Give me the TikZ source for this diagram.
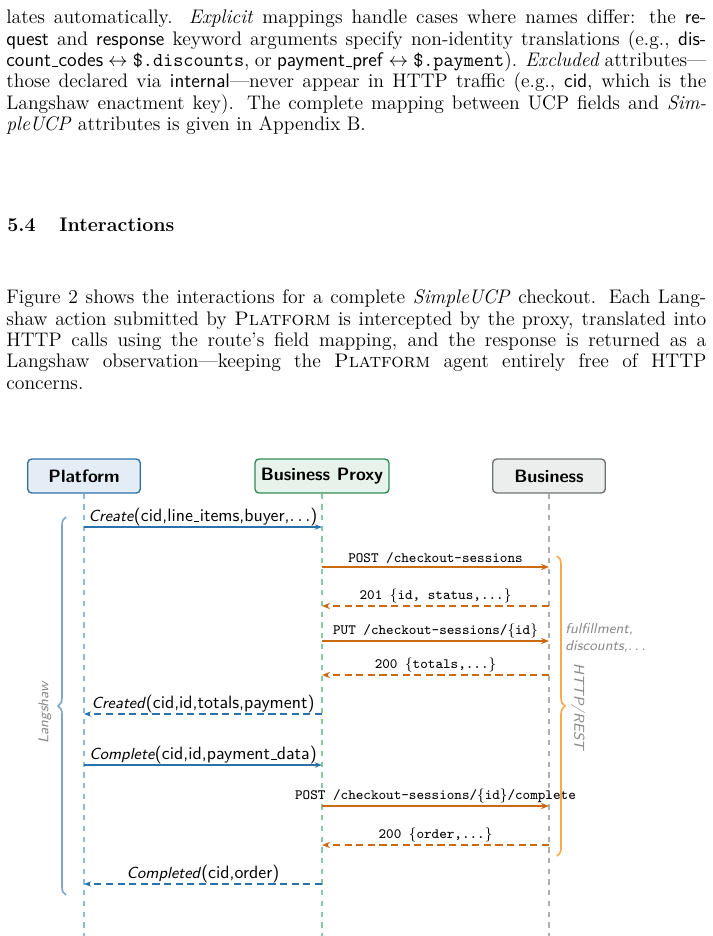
\documentclass[tikz,border=0pt]{standalone}
\usepackage{amsmath,amssymb}
\usepackage{xcolor}
\usepackage{tikz}
\usetikzlibrary{arrows.meta,calc,decorations.pathreplacing,positioning}
\definecolor{platblue}{HTML}{2A72AA}
\definecolor{platpale}{HTML}{E4EDF6}
\definecolor{platlight}{HTML}{8DB9DB}
\definecolor{proxygreen}{HTML}{2E8B57}
\definecolor{proxypale}{HTML}{E6F2EA}
\definecolor{proxylight}{HTML}{86C9A0}
\definecolor{bizgray}{HTML}{6E7072}
\definecolor{bizpale}{HTML}{ECEEEE}
\definecolor{bizlight}{HTML}{AEAEAE}
\definecolor{httporange}{HTML}{CC6A12}
\definecolor{httplight}{HTML}{F8A94C}
\definecolor{notegray}{HTML}{8A8A8A}
\newcommand\undsc{\leavevmode\kern.06em\vbox{\hrule width.3em}\kern.02em}
\tikzset{
  actor/.style={draw,rounded corners=2.2pt,line width=0.75pt,minimum height=19pt,font=\sffamily\bfseries,inner sep=3pt},
  lifeline/.style={line width=0.6pt,dash pattern=on 3pt off 3pt},
  lmsg/.style={-{Stealth[length=4pt,width=3pt]},platblue,line width=0.8pt},
  hmsg/.style={-{Stealth[length=4.5pt,width=3.5pt]},httporange,line width=1pt},
  ret/.style={dash pattern=on 4pt off 2.5pt},
  lbl/.style={font=\sffamily,text=black,above,inner sep=0.2pt},
  tlbl/.style={font=\ttfamily\footnotesize,text=black,above,inner sep=1.3pt},
  note/.style={font=\sffamily\itshape\footnotesize,text=notegray},
  para/.style={anchor=north west,inner sep=0pt,text width=392pt,align=justify,font=\fontsize{11}{12}\selectfont}
}

\begin{document}
\begin{tikzpicture}[x=0.56pt,y=-0.56pt]
  \useasboundingbox (0,0) rectangle (712,936);

  \node[para] (para1) at (6,9.5) {lates automatically. \emph{Explicit} mappings handle cases where names differ: the \textsf{re-}\linebreak
    \textsf{quest} and \textsf{response} keyword arguments specify non-identity translations (e.g., \textsf{dis-}\linebreak
    \textsf{count\undsc codes} $\leftrightarrow$ \texttt{\$.discounts}, or \textsf{payment\undsc pref} $\leftrightarrow$ \texttt{\$.payment}). \emph{Excluded} attributes---\linebreak
    those declared via \textsf{internal}---never appear in HTTP traffic (e.g., \textsf{cid}, which is the\linebreak
    Langshaw enactment key). The complete mapping between UCP fields and \emph{Sim-}\linebreak
    \emph{pleUCP} attributes is given in Appendix B.};
  \node[anchor=base west,inner sep=0pt,font=\fontsize{11}{12}\selectfont\bfseries] (secnum) at (7,231) {5.4};
  \node[anchor=base west,inner sep=0pt,font=\fontsize{11}{12}\selectfont\bfseries] (sectitle) at (59,231) {Interactions};
  \node[para] (para2) at (6,289.5) {Figure 2 shows the interactions for a complete \emph{SimpleUCP} checkout. Each Lang-\linebreak
    shaw action submitted by \textsc{Platform} is intercepted by the proxy, translated into\linebreak
    HTTP calls using the route's field mapping, and the response is returned as a\linebreak
    Langshaw observation---keeping the \textsc{Platform} agent entirely free of HTTP\linebreak
    concerns.};

  \node[actor,draw=platblue,fill=platpale,minimum width=63pt] (plat) at (84,476) {Platform};
  \node[actor,draw=proxygreen,fill=proxypale,minimum width=75pt] (proxy) at (322,476) {Business Proxy};
  \node[actor,draw=bizgray,fill=bizpale,minimum width=63pt] (biz) at (549,476) {Business};

  \coordinate (bot) at (0,936);
  \draw[lifeline,platlight] (plat.south) -- (plat.south |- bot);
  \draw[lifeline,proxylight] (proxy.south) -- (proxy.south |- bot);
  \draw[lifeline,bizlight] (biz.south) -- (biz.south |- bot);

  \coordinate (m1) at (0,527);
  \coordinate (m2) at (0,567);
  \coordinate (m3) at (0,606);
  \coordinate (m4) at (0,641);
  \coordinate (m5) at (0,675);
  \coordinate (m6) at (0,714);
  \coordinate (m7) at (0,765);
  \coordinate (m8) at (0,806);
  \coordinate (m9) at (0,845);
  \coordinate (m10) at (0,884);

  \draw[lmsg] (plat |- m1) -- node[lbl] {\textit{\small Create}(cid,line\undsc items,buyer,$\ldots$)} (proxy |- m1);
  \draw[hmsg] (proxy |- m2) -- node[tlbl] {POST /checkout-sessions} (biz |- m2);
  \draw[hmsg,ret] (biz |- m3) -- node[tlbl] {201 $\{$id, status,...$\}$} (proxy |- m3);
  \draw[hmsg] (proxy |- m4) -- node[tlbl] {PUT /checkout-sessions/$\{$id$\}$} (biz |- m4);
  \draw[hmsg,ret] (biz |- m5) -- node[tlbl] {200 $\{$totals,...$\}$} (proxy |- m5);
  \draw[lmsg,ret] (proxy |- m6) -- node[lbl] {\textit{\small Created}(cid,id,totals,payment)} (plat |- m6);
  \draw[lmsg] (plat |- m7) -- node[lbl] {\textit{\small Complete}(cid,id,payment\undsc data)} (proxy |- m7);
  \draw[hmsg] (proxy |- m8) -- node[tlbl] {POST /checkout-sessions/$\{$id$\}$/complete} (biz |- m8);
  \draw[hmsg,ret] (biz |- m9) -- node[tlbl] {200 $\{$order,...$\}$} (proxy |- m9);
  \draw[lmsg,ret] (proxy |- m10) -- node[lbl] {\textit{\small Completed}(cid,order)} (plat |- m10);

  \coordinate (langtop) at (66,517);
  \coordinate (langbot) at (66,895);
  \coordinate (resttop) at (557,556);
  \coordinate (restbot) at (557,856);
  \draw[platlight!90!black,line width=0.9pt,decorate,decoration={brace,amplitude=4.5pt}] (langbot) -- (langtop);
  \draw[httplight,line width=0.9pt,decorate,decoration={brace,amplitude=4.5pt}] (resttop) -- (restbot);
  \node[note,rotate=90] (langlbl) at (45,713) {Langshaw};
  \node[note,rotate=-90] (restlbl) at (578,707) {HTTP/REST};
  \node[note,anchor=north west,align=left,inner sep=0pt] (fulfil) at (565,623) {fulfillment,\\discounts,$\ldots$};
\end{tikzpicture}
\end{document}
